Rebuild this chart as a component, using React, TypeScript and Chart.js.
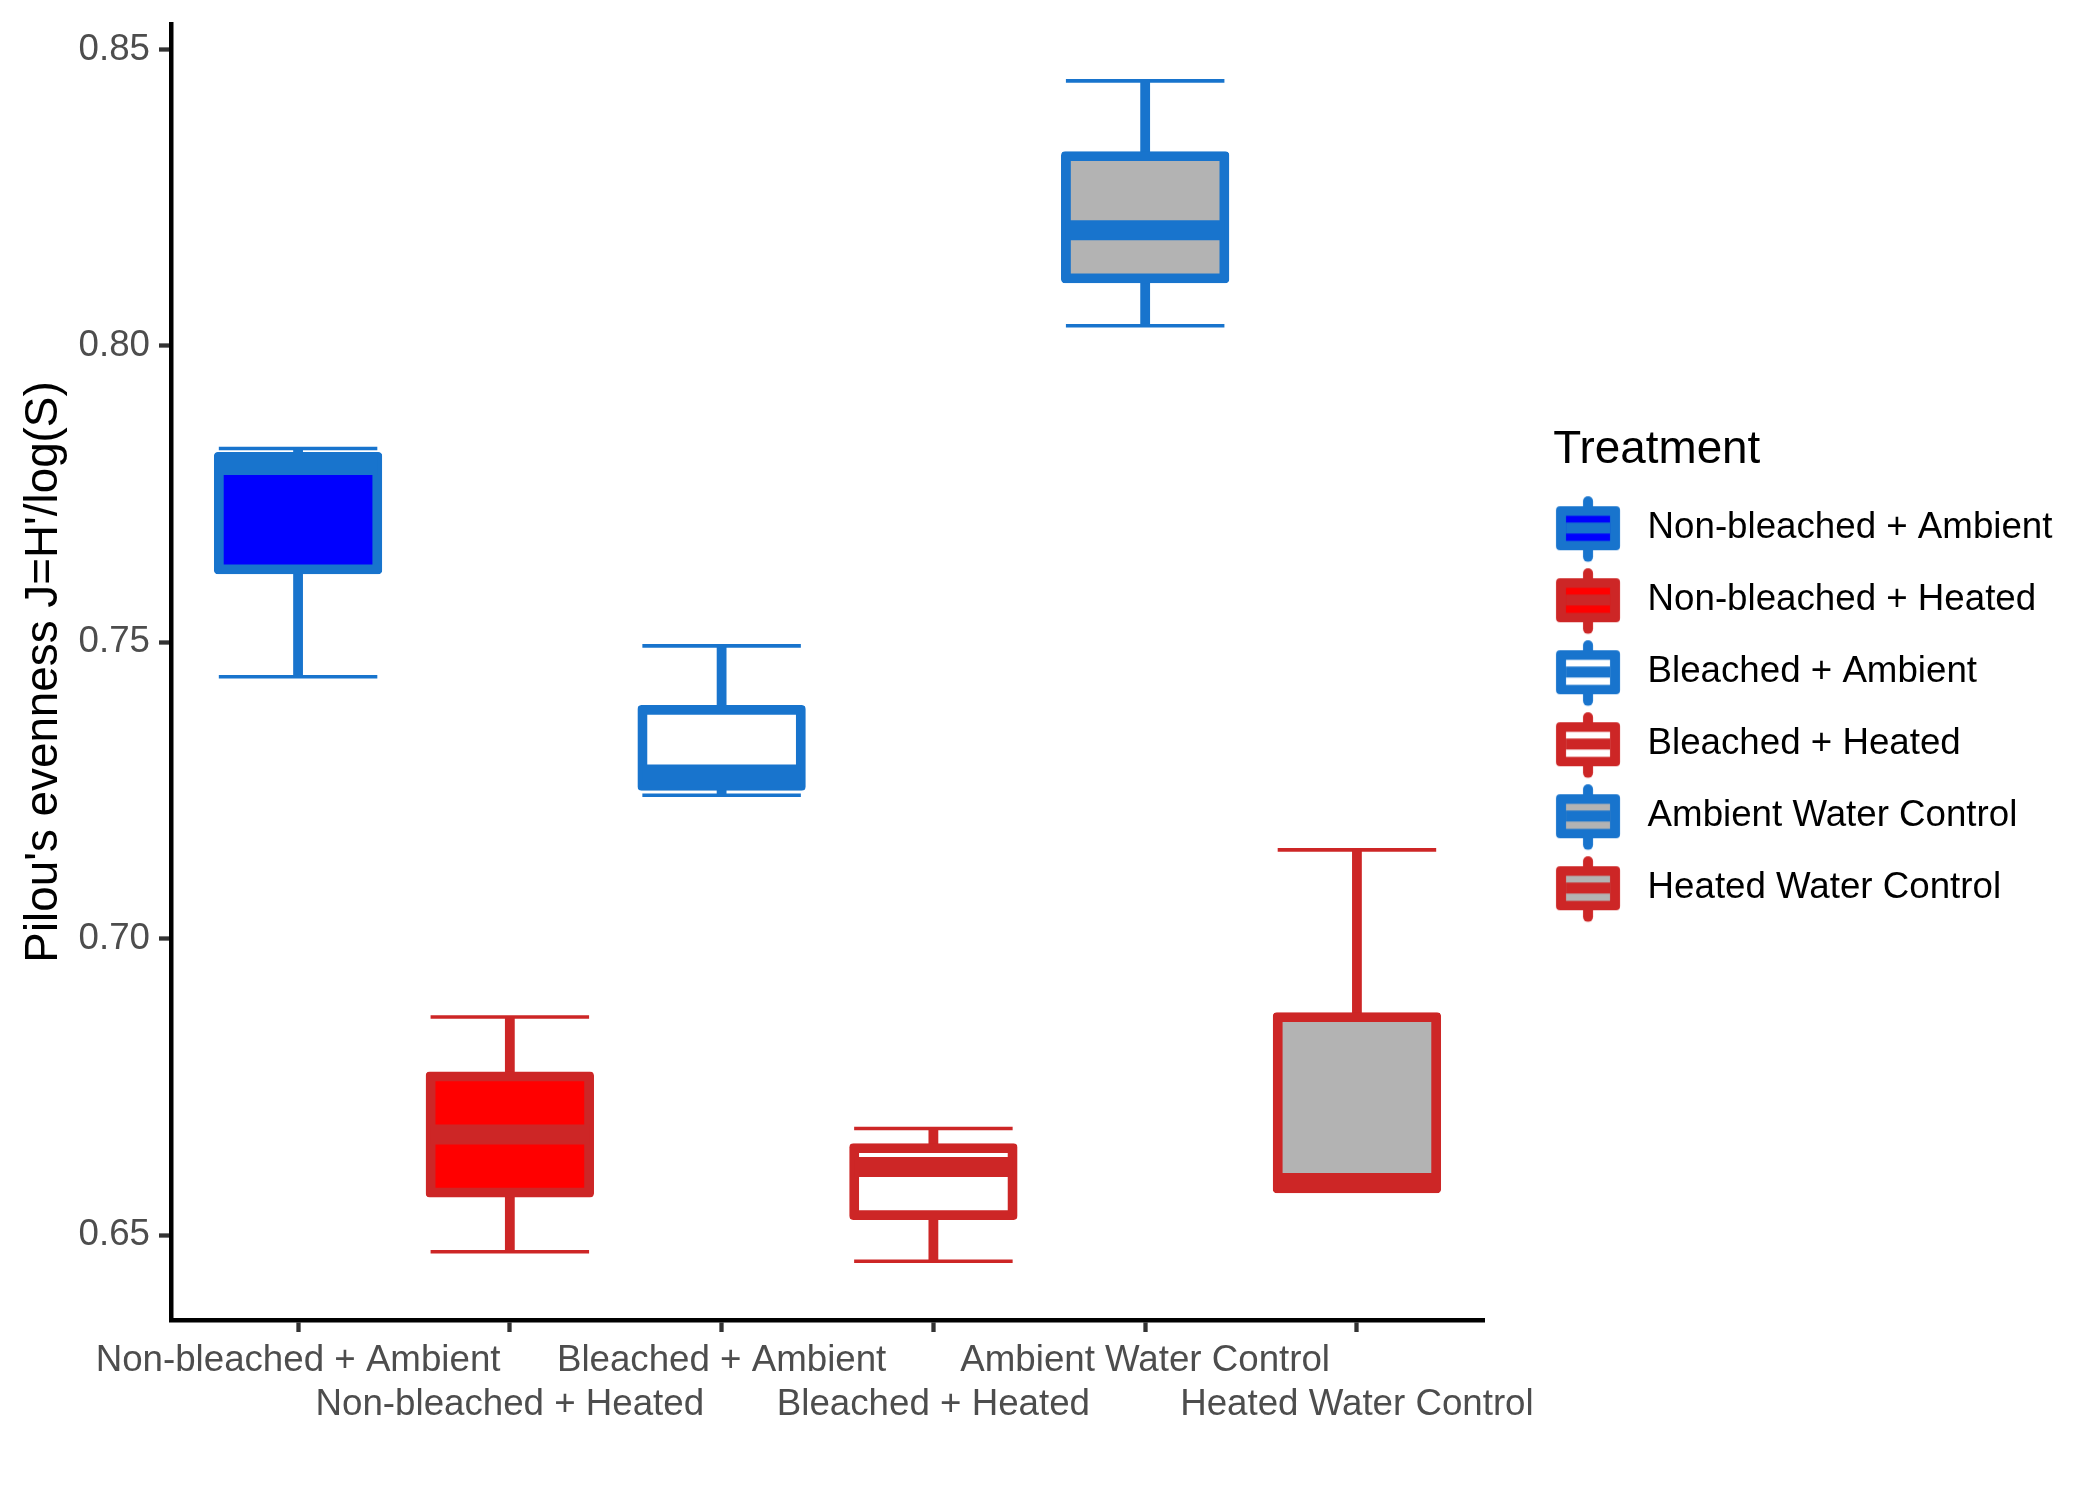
import React, { useEffect, useRef } from "react";
import { Chart, registerables } from "chart.js";

Chart.register(...registerables);

// ---- data ----
const categories = [
  "Non-bleached + Ambient",
  "Non-bleached + Heated",
  "Bleached + Ambient",
  "Bleached + Heated",
  "Ambient Water Control",
  "Heated Water Control",
];
const whiskerMin = [0.7442, 0.6472, 0.7242, 0.6456, 0.8034, 0.6577];
const quartile1 = [0.7623, 0.6572, 0.7258, 0.6534, 0.8114, 0.6579];
const medians = [0.7799, 0.667, 0.7277, 0.6615, 0.8195, 0.6588];
const quartile3 = [0.7813, 0.6768, 0.7386, 0.6647, 0.832, 0.6868];
const whiskerMax = [0.7827, 0.6868, 0.7494, 0.668, 0.8447, 0.715];
const yTickValues = [0.65, 0.7, 0.75, 0.8, 0.85];

const BLUE = "#1874CD";
const RED = "#CD2626";
const edgeColors = [BLUE, RED, BLUE, RED, BLUE, RED];
const fillColors = ["#0000FF", "#FF0000", "#FFFFFF", "#FFFFFF", "#B3B3B3", "#B3B3B3"];

const Y_MIN = 0.6357;
const Y_MAX = 0.8543;
const X_MIN = -0.6;
const X_MAX = 5.6;

const FONT = "'Liberation Sans', Arial, sans-serif";
const BOX_W = 158.5;
const BOX_LW = 9.8;

function makeGlyph(edge: string, fill: string): HTMLCanvasElement {
  const c = document.createElement("canvas");
  c.width = 140;
  c.height = 70;
  const g = c.getContext("2d")!;
  const cx = 49.1;
  const cy = 35;
  g.strokeStyle = edge;
  g.lineWidth = 10;
  g.lineCap = "round";
  g.beginPath();
  g.moveTo(cx, cy - 27);
  g.lineTo(cx, cy + 28.6);
  g.stroke();
  g.fillStyle = edge;
  const x = cx - 32, y = cy - 22, w = 64, h = 44, r = 4;
  g.beginPath();
  g.moveTo(x + r, y);
  g.lineTo(x + w - r, y);
  g.quadraticCurveTo(x + w, y, x + w, y + r);
  g.lineTo(x + w, y + h - r);
  g.quadraticCurveTo(x + w, y + h, x + w - r, y + h);
  g.lineTo(x + r, y + h);
  g.quadraticCurveTo(x, y + h, x, y + h - r);
  g.lineTo(x, y + r);
  g.quadraticCurveTo(x, y, x + r, y);
  g.closePath();
  g.fill();
  g.fillStyle = fill;
  g.fillRect(cx - 22, cy - 12.4, 44, 25);
  g.fillStyle = edge;
  g.fillRect(cx - 22, cy - 5.7, 44, 11);
  return c;
}

export default function App() {
  const ref = useRef<HTMLCanvasElement | null>(null);

  useEffect(() => {
    document.body.style.margin = "0";
    Chart.defaults.font.family = FONT;
    const glyphs = categories.map((_, i) => makeGlyph(edgeColors[i], fillColors[i]));
    const pts = (arr: number[]) => arr.map((v, i) => ({ x: i, y: v }));

    const capCommon = {
      type: "line" as const,
      showLine: false,
      pointStyle: "line" as const,
      pointRadius: BOX_W / 2,
      pointHoverRadius: BOX_W / 2,
      pointBorderWidth: 3.6,
      pointBorderColor: edgeColors,
      pointBackgroundColor: edgeColors,
      order: 4,
    };

    const chart = new Chart(ref.current!, {
      type: "bar",
      data: {
        datasets: [
          { ...capCommon, label: "max", data: pts(whiskerMax) },
          { ...capCommon, label: "min", data: pts(whiskerMin) },
          {
            type: "bar",
            label: "whisker",
            data: whiskerMin.map((v, i) => ({ x: i, y: [v, whiskerMax[i]] })),
            backgroundColor: edgeColors,
            borderWidth: 0,
            barThickness: 9.8,
            grouped: false,
            inflateAmount: 0,
            order: 3,
          } as any,
          {
            type: "bar",
            label: "box",
            data: quartile1.map((v, i) => ({ x: i, y: [v, quartile3[i]] })),
            backgroundColor: fillColors,
            borderColor: edgeColors,
            borderWidth: BOX_LW,
            borderSkipped: false,
            borderRadius: { topLeft: 4, topRight: 4, bottomLeft: 4, bottomRight: 4 },
            barThickness: BOX_W,
            grouped: false,
            inflateAmount: BOX_LW / 2,
            order: 2,
          } as any,
          {
            type: "line",
            label: "median",
            data: pts(medians),
            showLine: false,
            pointStyle: "line",
            pointRadius: BOX_W / 2,
            pointHoverRadius: BOX_W / 2,
            pointBorderWidth: 20,
            pointBorderColor: edgeColors,
            pointBackgroundColor: edgeColors,
            order: 1,
          } as any,
        ],
      },
      options: {
        responsive: false,
        maintainAspectRatio: false,
        devicePixelRatio: 1,
        animation: false,
        events: [],
        layout: { autoPadding: false, padding: { top: 24, left: 0, right: 41.7, bottom: 0 } },
        plugins: {
          tooltip: { enabled: false },
          legend: {
            display: true,
            position: "right",
            align: "start",
            maxWidth: 505,
            title: {
              display: true,
              text: "Treatment",
              color: "#000000",
              position: "start",
              font: { size: 45.8, lineHeight: 1, family: FONT },
              padding: { top: 403.3, bottom: 1.45 },
            } as any,
            labels: {
              usePointStyle: true,
              pointStyleWidth: 40.65,
              padding: 35.3,
              color: "#000000",
              font: { size: 36.7, family: FONT },
              generateLabels: () =>
                categories.map((c, i) => ({
                  text: c,
                  pointStyle: glyphs[i] as any,
                  fillStyle: "rgba(0,0,0,0)",
                  strokeStyle: "rgba(0,0,0,0)",
                  lineWidth: 0,
                  hidden: false,
                  index: i,
                  datasetIndex: 0,
                })),
            },
          },
        },
        scales: {
          x: {
            type: "linear",
            min: X_MIN,
            max: X_MAX,
            offset: false,
            afterBuildTicks: (s: any) => {
              s.ticks = categories.map((_, i) => ({ value: i }));
            },
            afterFit: (s: any) => {
              s.height = 180;
              s.paddingLeft = 0;
              s.paddingRight = 0;
            },
            ticks: {
              autoSkip: false,
              maxRotation: 0,
              minRotation: 0,
              padding: 7.6,
              color: "#4D4D4D",
              font: { size: 36.7, lineHeight: 1.177, family: FONT },
              callback: (v: any) => {
                const i = Math.round(Number(v));
                return i % 2 === 0 ? categories[i] : ["", categories[i]];
              },
            },
            grid: {
              display: true,
              drawOnChartArea: false,
              drawTicks: true,
              tickLength: 12,
              tickColor: "#333333",
              tickWidth: 4.3,
              offset: false,
            },
            border: { display: true, color: "#000000", width: 4.5 },
          } as any,
          y: {
            type: "linear",
            min: Y_MIN,
            max: Y_MAX,
            beginAtZero: false,
            afterBuildTicks: (s: any) => {
              s.ticks = yTickValues.map((v) => ({ value: v }));
            },
            afterFit: (s: any) => {
              s.width = 171;
              s.paddingTop = 0;
              s.paddingBottom = 0;
            },
            ticks: {
              padding: 9,
              color: "#4D4D4D",
              font: { size: 36.7, family: FONT },
              callback: (v: any) => Number(v).toFixed(2),
            },
            grid: {
              display: true,
              drawOnChartArea: false,
              drawTicks: true,
              tickLength: 12,
              tickColor: "#333333",
              tickWidth: 4.3,
            },
            border: { display: true, color: "#000000", width: 4.5 },
            title: {
              display: true,
              text: "Pilou's evenness J=H'/log(S)",
              color: "#000000",
              font: { size: 45.8, lineHeight: 1, family: FONT },
              padding: { top: 21, bottom: 0 },
            },
          } as any,
          gap: {
            type: "linear",
            position: "right",
            axis: "y",
            display: true,
            ticks: { display: false },
            grid: { display: false },
            border: { display: false },
            afterFit: (s: any) => {
              s.width = 69.3;
              s.paddingTop = 0;
              s.paddingBottom = 0;
            },
          } as any,
        },
      } as any,
    });
    return () => chart.destroy();
  }, []);

  return (
    <div style={{ position: "absolute", left: 0, top: 0, width: 2100, height: 1500, background: "#ffffff" }}>
      <canvas ref={ref} width={2100} height={1500} style={{ display: "block", width: 2100, height: 1500 }} />
    </div>
  );
}
